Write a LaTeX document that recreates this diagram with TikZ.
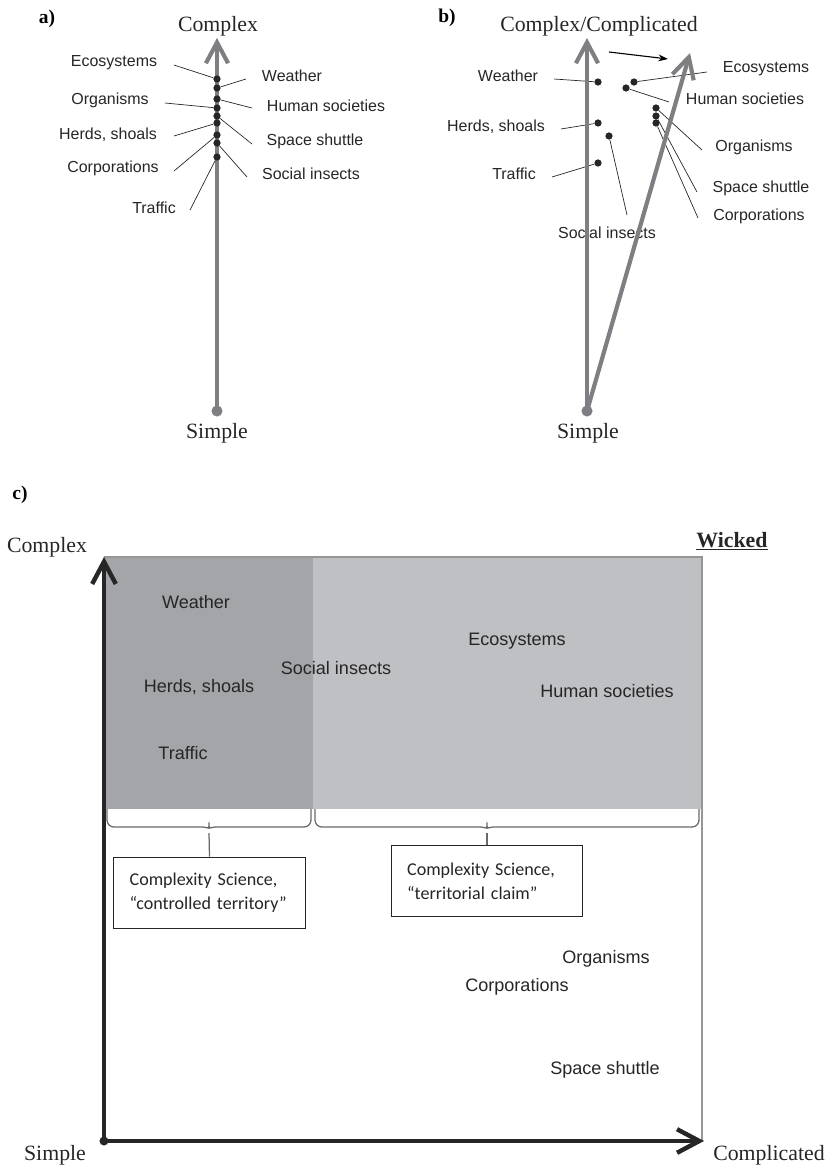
\documentclass[tikz,border=0pt]{standalone}
\usepackage{fontspec}
\setmainfont{Liberation Serif}
\newfontfamily\arialfont{Liberation Sans}
\newfontfamily\calfont{Carlito}
\usetikzlibrary{arrows.meta}
\definecolor{axisgray}{RGB}{126,126,131}
\definecolor{inkgray}{RGB}{38,38,38}
\definecolor{darkzone}{RGB}{164,165,169}
\definecolor{lightzone}{RGB}{191,192,196}
\definecolor{edgegray}{RGB}{150,150,150}
\definecolor{bracegray}{RGB}{105,105,108}
\tikzset{
        gaxis/.style={draw=axisgray, line width=3pt, -{Straight Barb[length=15pt,width=16pt]}},
        baxis/.style={draw=inkgray, line width=3.2pt, -{Straight Barb[length=16pt,width=17pt]}},
        pdot/.style={circle, fill=inkgray, inner sep=0pt, minimum size=5.2pt},
        rootdot/.style={circle, fill=axisgray, inner sep=0pt, minimum size=8pt},
        leader/.style={draw=inkgray, line width=0.5pt},
        lbl/.style={font=\arialfont\fontsize{11.5}{13}\selectfont, text=inkgray, inner sep=1pt},
        zonelbl/.style={font=\arialfont\fontsize{13}{15}\selectfont, text=inkgray, inner sep=1pt},
        axislbl/.style={font=\fontsize{15.7}{18}\selectfont, text=inkgray, inner sep=1pt},
        paneltag/.style={font=\bfseries\fontsize{14}{16}\selectfont, inner sep=1pt},
        claim/.style={draw=inkgray, line width=0.6pt, fill=white, align=left, text width=115pt,
          inner xsep=11.5pt, minimum height=51pt, font=\calfont\fontsize{13}{17}\selectfont, text=inkgray},
        bracepath/.style={draw=bracegray, line width=0.9pt, rounded corners=5pt},
        shiftarrow/.style={draw=black, line width=0.8pt, -{Stealth[length=7pt,width=5pt]}}
          }

\begin{document}
\begin{tikzpicture}[x=0.72pt, y=-0.72pt]
        \useasboundingbox (0,0) rectangle (827,1168);
        % a) one scale
        \node[paneltag] (tag-a) at (47,19) {a)};
        \node[axislbl] (a-top) at (218,26) {Complex};
        \node[axislbl] (a-bot) at (217,433) {Simple};
        \node[rootdot] (a-root) at (217,411) {};
        \coordinate (a-tip) at (217,38);
        \draw[gaxis] (a-root.center) -- (a-tip);
        \foreach \n/\y in {eco/79, wea/88, hum/99, org/108, spa/116, her/123, cor/135, soc/143, tra/157}
          \node[pdot] (a-\n) at (217,\y) {};
        \foreach \n/\txt/\lx/\ly/\ex/\ey in {eco/Ecosystems/114/63/174/65, wea/Weather/292/76/246/79,
            hum/Human societies/326/106/252/108, org/Organisms/110/100/165/103,
            spa/Space shuttle/315/141/252/144, her/{Herds, shoals}/108/135/174/136,
            cor/Corporations/113/168/174/171, soc/Social insects/311/174/247/177, tra/Traffic/154/208/190/210}
        {
          \node[lbl] (la-\n) at (\lx,\ly) {\txt};
          \coordinate (ea-\n) at (\ex,\ey);
          \draw[leader] (ea-\n) -- (a-\n);
        }

        % b) two scales
        \node[paneltag] (tag-b) at (447,18) {b)};
        \node[axislbl] (b-top) at (599,26) {Complex/Complicated};
        \node[axislbl] (b-bot) at (588,433) {Simple};
        \foreach \n/\txt/\lx/\ly/\ex/\ey/\dx/\dy in {wea/Weather/508/76/554/79/598/82,
            eco/Ecosystems/766/69/707/72/634/82, hum/Human societies/745/99/669/102/626/88,
            her/{Herds, shoals}/496/127/561/129/598/123, soc/Social insects/607/233/627/215/609/136,
            tra/Traffic/514/174/552/177/598/163, org/Organisms/754/147/702/150/656/108,
            spa/Space shuttle/761/188/697/192/656/116, cor/Corporations/759/216/698/218/656/123}
        {
          \node[lbl] (lb-\n) at (\lx,\ly) {\txt};
          \node[pdot] (b-\n) at (\dx,\dy) {};
          \coordinate (eb-\n) at (\ex,\ey);
          \draw[leader] (eb-\n) -- (b-\n);
        }
        \node[rootdot] (b-root) at (587,411) {};
        \coordinate (b-tip) at (587,38);
        \coordinate (b-tip2) at (690,53);
        \draw[gaxis] (b-root.center) -- (b-tip);
        \draw[gaxis] (b-root.center) -- (b-tip2);
        \coordinate (shift-s) at (609,52);
        \coordinate (shift-e) at (668,59);
        \draw[shiftarrow] (shift-s) -- (shift-e);

        % c) plane
        \node[paneltag] (tag-c) at (20,495) {c)};
        \fill[darkzone] (104,557) rectangle (313,809);
        \fill[lightzone] (313,557) rectangle (702,809);
        \draw[draw=edgegray, line width=1pt] (104,557) -- (702,557) -- (702,1141);
        \foreach \n/\txt/\lx/\ly in {wea/Weather/196/602, soc/Social insects/336/668,
            her/{Herds, shoals}/199/687, tra/Traffic/183/753, eco/Ecosystems/517/641,
            hum/Human societies/607/691, org/Organisms/606/959, cor/Corporations/517/987,
            spa/Space shuttle/605/1070}
          \node[zonelbl] (lc-\n) at (\lx,\ly) {\txt};

        \node[claim] (claim-a) at (209.5,892.5) {Complexity Science,\\“controlled territory”};
        \node[claim] (claim-b) at (487,881) {Complexity Science,\\“territorial claim”};
        \draw[bracepath] (107,809) |- (203,827);
        \draw[bracepath] (311,809) |- (215,827);
        \draw[bracepath] (203,827) to[out=0,in=90] (209,833) to[out=90,in=180] (215,827);
        \draw[bracepath] (209,833) -- (claim-a.north);
        \draw[bracepath] (315,809) |- (481,827);
        \draw[bracepath] (699,809) |- (493,827);
        \draw[bracepath] (481,827) to[out=0,in=90] (487,833) to[out=90,in=180] (493,827);
        \draw[bracepath] (487,833) -- (claim-b.north);

        \node[pdot, minimum size=6.5pt] (c-root) at (104,1141) {};
        \coordinate (c-ytip) at (104,557);
        \coordinate (c-xtip) at (704,1141);
        \draw[baxis] (c-root.center) -- (c-ytip);
        \draw[baxis] (c-root.center) -- (c-xtip);
        \node[axislbl] (c-top) at (47,547) {Complex};
        \node[axislbl] (c-bot) at (55,1155) {Simple};
        \node[axislbl] (c-right) at (769,1155) {Complicated};
        \node[axislbl] (c-wicked) at (732,541) {\underline{\textbf{Wicked}}};
\end{tikzpicture}
\end{document}
